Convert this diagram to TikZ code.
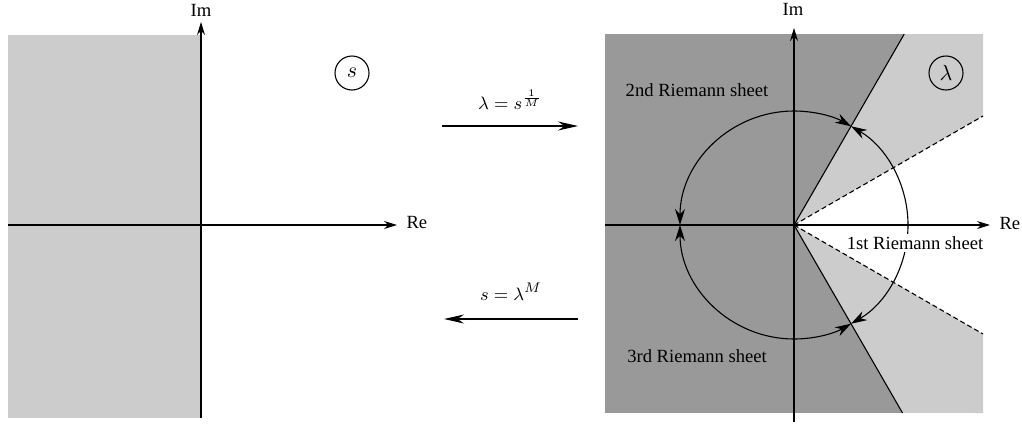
\documentclass[tikz,border=0pt]{standalone}
\usepackage{fontspec}
\setmainfont{Liberation Serif}
\usepackage{tikz}
\usetikzlibrary{arrows.meta,calc}

\begin{document}
\begin{tikzpicture}[x=0.5pt, y=0.5pt, line width=0.55pt,
    lbl/.style={font=\fontsize{9.3}{11}\selectfont, inner sep=1pt},
    axis/.style={-{Stealth[length=6.5pt, width=4pt]}},
    map/.style={-{Stealth[length=10pt, width=4.5pt]}},
    turn/.style={-{Stealth[length=8pt, width=5pt]}},
    plane/.style={draw, circle, minimum size=17pt, inner sep=0pt,
                  font=\fontsize{10.5}{12}\selectfont},
    dark/.style={fill=black!40},
    light/.style={fill=black!20},
    cut/.style={dash pattern=on 2.5pt off 1.5pt},
  ]
  \useasboundingbox (0,0) rectangle (1022,425);

  % s-plane
  \fill[light] (8,7) rectangle (201,390);
  \coordinate (sO) at (201,200);
  \coordinate (sW) at (8,200);
  \coordinate (sE) at (397,200);
  \coordinate (sS) at (201,7);
  \coordinate (sN) at (201,403);
  \draw[axis] (sW) -- (sE);
  \draw[axis] (sS) -- (sN);
  \node[lbl, anchor=west] (sRe) at (404,203) {Re};
  \node[lbl] (sIm) at (201,415) {Im};
  \node[plane] (sTag) at (352,352) {$s$};

  % mappings
  \coordinate (f1) at (442,299);
  \coordinate (f2) at (578,299);
  \coordinate (g1) at (578,106);
  \coordinate (g2) at (444,106);
  \draw[map] (f1) -- node[lbl, above=7pt] (fLbl) {$\lambda=s^{\frac{1}{M}}$} (f2);
  \draw[map] (g1) -- node[lbl, above=8pt] (gLbl) {$s=\lambda^{M}$} (g2);

  % lambda-plane
  \coordinate (lO) at (794,200);
  \coordinate (bUp) at ($(lO)+(60:220.5)$);
  \coordinate (bDn) at ($(lO)+(-60:217)$);
  \coordinate (cUp) at (983,309);
  \coordinate (cDn) at (983,91);
  \fill[dark] (605,12) rectangle (983,391);
  \fill[light] (lO) -- (bUp) -- (983,391) -- (cUp) -- cycle;
  \fill[light] (lO) -- (bDn) -- (983,12) -- (cDn) -- cycle;
  \fill[white] (lO) -- (cUp) -- (cDn) -- cycle;
  \draw (lO) -- (bUp);
  \draw (lO) -- (bDn);
  \draw[cut] (lO) -- (cUp);
  \draw[cut] (lO) -- (cDn);

  \coordinate (lW) at (605,200);
  \coordinate (lE) at (990,200);
  \coordinate (lS) at (794,3);
  \coordinate (lN) at (794,397);
  \draw[axis] (lW) -- (lE);
  \draw[axis] (lS) -- (lN);
  \node[lbl, anchor=west] (lRe) at (997,202) {Re};
  \node[lbl] (lIm) at (793,416) {Im};
  \node[plane] (lTag) at (946,352) {$\lambda$};

  % turns round the circle
  \draw[turn] ([shift={(0:114)}]lO) arc[start angle=0, end angle=60, radius=114];
  \draw[turn] ([shift={(90:114)}]lO) arc[start angle=90, end angle=60, radius=114];
  \draw[turn] ([shift={(90:114)}]lO) arc[start angle=90, end angle=180, radius=114];
  \draw[turn] ([shift={(270:114)}]lO) arc[start angle=270, end angle=180, radius=114];
  \draw[turn] ([shift={(270:114)}]lO) arc[start angle=270, end angle=300, radius=114];
  \draw[turn] ([shift={(0:114)}]lO) arc[start angle=0, end angle=-60, radius=114];

  \node[lbl] (sheet2) at (697,335) {2nd Riemann sheet};
  \node[lbl] (sheet3) at (697,69) {3rd Riemann sheet};
  \node[lbl, fill=white] (sheet1) at (915,182) {1st Riemann sheet};
\end{tikzpicture}
\end{document}
